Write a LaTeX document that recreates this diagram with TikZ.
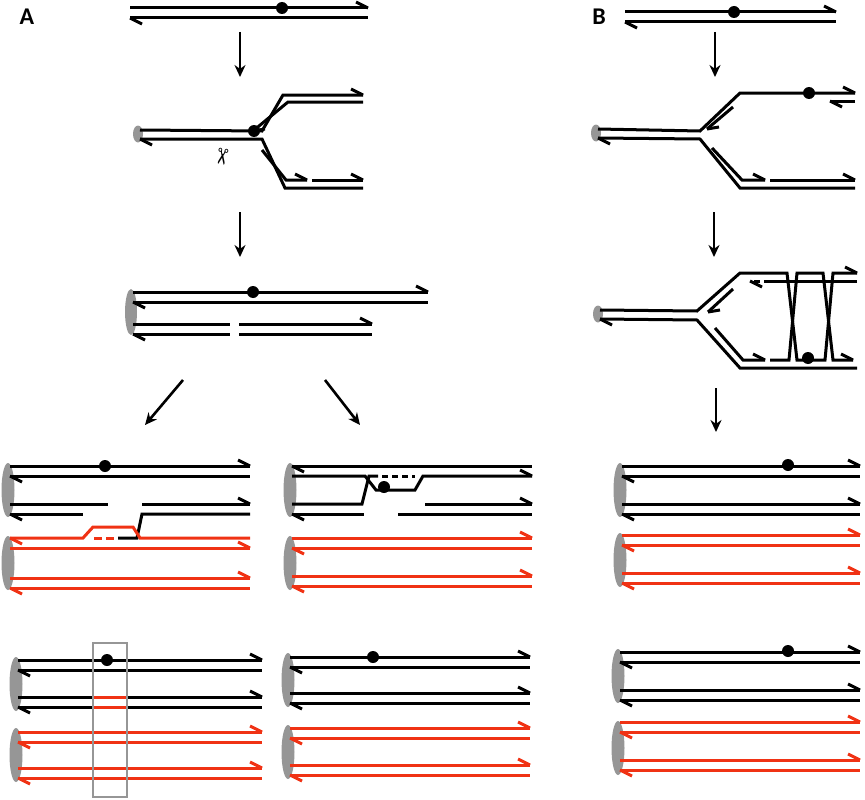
\documentclass[tikz,border=0pt]{standalone}
\usepackage{fontspec}
\usetikzlibrary{shapes.geometric,arrows.meta}
\setmainfont{Carlito}
\newfontfamily\dejavu{DejaVu Sans}
\definecolor{rd}{RGB}{240,50,20}
\definecolor{gr}{RGB}{150,150,150}
\newcommand\RB[3][black]{\draw[#1] (#2,#3) -- ++(-12,-6);}
\newcommand\LB[3][black]{\draw[#1] (#2,#3) -- ++(12,6);}
\newcommand\duplex[4]{%
  \draw[#4] (#1,#3) -- (#2,#3); \RB[#4]{#2}{#3}
  \draw[#4] (#1,#3+10) -- (#2,#3+10); \LB[#4]{#1}{#3+10}}
\begin{document}
\begin{tikzpicture}[x=1pt,y=-1pt,line width=3pt,line cap=butt,
  dot/.style={circle,fill=black,inner sep=0pt,minimum size=12pt},
  ell/.style={ellipse,fill=gr,inner sep=0pt},
  stp/.style={-{Stealth[length=12pt,width=11pt]},line width=2.6pt},
  lab/.style={font=\bfseries\fontsize{24}{24}\selectfont}]
\path[use as bounding box] (0,0) rectangle (865,800);
\node[lab] (la) at (27,17) {A};
\node[lab] (lb) at (599,17) {B};
% ---------- A1
\duplex{130}{368}{8}{black}
\node[dot] (d1) at (282,8) {};
\coordinate (a1s) at (240,32); \coordinate (a1e) at (240,77);
\draw[stp] (a1s) -- (a1e);
% ---------- A2
\node[ell,minimum width=10pt,minimum height=17pt] (e2) at (138,134) {};
\draw (140,130) -- (262,131) -- (283,95) -- (363,95); \RB{363}{95}
\draw (140,139) -- (262,139) -- (285,188) -- (363,188); \LB{140}{139}
\draw (363,102) -- (288,102) -- (253,131); \draw (253,131) -- ++(12,-2);
\draw (262,150) -- (286,180) -- (307,180); \RB{307}{180}
\draw (312,180) -- (363,180); \RB{363}{180}
\node[dot] (d2) at (254,131) {};
\node[font=\dejavu\fontsize{22}{22}\selectfont,rotate=-100] (sc) at (221,157) {✂};
\coordinate (a2s) at (240,212); \coordinate (a2e) at (240,257);
\draw[stp] (a2s) -- (a2e);
% ---------- A3
\node[ell,minimum width=12pt,minimum height=46pt] (e3) at (131,312) {};
\duplex{133}{428}{292}{black}
\node[dot] (d3) at (253,292) {};
\draw (133,324) -- (230,324); \draw (239,324) -- (372,324); \RB{372}{324}
\draw (133,334) -- (230,334); \draw (239,334) -- (372,334); \LB{133}{334}
\coordinate (a3s) at (183,380); \coordinate (a3e) at (145,425);
\coordinate (a4s) at (325,380); \coordinate (a4e) at (360,425);
\draw[stp] (a3s) -- (a3e); \draw[stp] (a4s) -- (a4e);
% ---------- A4 left
\node[ell,minimum width=13pt,minimum height=54pt] (e4) at (8,490) {};
\duplex{10}{250}{466}{black}
\node[dot] (d4) at (105,466) {};
\draw (10,504) -- (108,504); \draw (142,504) -- (250,504); \RB{250}{504}
\draw (10,514) -- (83,514); \LB{10}{514}
\draw (250,514) -- (142,514) -- (137,538) -- (118,538);
\node[ell,minimum width=13pt,minimum height=54pt] (e5) at (8,563) {};
\draw[rd] (10,538) -- (83,538) -- (93,527) -- (133,527) -- (140,538) -- (250,538); \LB[rd]{10}{538}
\draw[rd,dash pattern=on 8pt off 4pt] (94,538) -- (117,538);
\draw[rd] (10,548) -- (250,548); \RB[rd]{250}{548}
\duplex{10}{250}{578}{rd}
% ---------- A4 right
\node[ell,minimum width=13pt,minimum height=54pt] (e6) at (290,490) {};
\draw (292,466) -- (532,466); \LB{292}{466}
\draw (292,476) -- (365,476) -- (376,490) -- (415,490) -- (423,476) -- (532,476); \RB{532}{476}
\draw (292,504) -- (362,504) -- (369,476) -- (378,476);
\draw[dash pattern=on 6pt off 4pt] (382,476) -- (415,476);
\node[dot] (d5) at (384,487) {};
\draw (425,504) -- (532,504); \RB{532}{504}
\draw (292,514) -- (364,514); \draw (398,514) -- (532,514); \LB{292}{514}
\node[ell,minimum width=13pt,minimum height=54pt] (e7) at (290,563) {};
\duplex{292}{532}{538}{rd}
\duplex{292}{532}{576}{rd}
% ---------- A5 left
\node[ell,minimum width=13pt,minimum height=54pt] (e8) at (16,684) {};
\duplex{18}{262}{660}{black}
\duplex{18}{262}{697}{black}
\draw[rd] (93,697) -- (127,697); \draw[rd] (93,707) -- (127,707);
\node[ell,minimum width=13pt,minimum height=54pt] (e9) at (16,755) {};
\duplex{18}{262}{732}{rd}
\duplex{18}{262}{768}{rd}
\node[dot] (d6) at (107,660) {};
\draw[gr,line width=2.6pt] (93,643) rectangle (127,797);
% ---------- A5 right
\node[ell,minimum width=13pt,minimum height=54pt] (e10) at (288,680) {};
\duplex{290}{530}{657}{black}
\duplex{290}{530}{693}{black}
\node[dot] (d7) at (373,657) {};
\node[ell,minimum width=13pt,minimum height=54pt] (e11) at (288,752) {};
\duplex{290}{530}{728}{rd}
\duplex{290}{530}{765}{rd}
% ---------- B1
\duplex{625}{836}{12}{black}
\node[dot] (d8) at (734,12) {};
\coordinate (b1s) at (715,32); \coordinate (b1e) at (715,77);
\draw[stp] (b1s) -- (b1e);
% ---------- B2
\node[ell,minimum width=10pt,minimum height=17pt] (e12) at (596,133) {};
\draw (598,129) -- (700,131) -- (740,93) -- (855,93); \RB{855}{93}
\draw (598,138) -- (700,139) -- (740,188) -- (855,188); \LB{598}{138}
\node[dot] (d9) at (809,93) {};
\draw (855,101) -- (830,101); \LB{830}{101}
\draw (733,107) -- (707,129); \draw (707,129) -- ++(12,-2);
\draw (712,148) -- (742,180) -- (765,180); \RB{765}{180}
\draw (770,180) -- (855,180); \RB{855}{180}
\coordinate (b2s) at (714,212); \coordinate (b2e) at (714,257);
\draw[stp] (b2s) -- (b2e);
% ---------- B3
\node[ell,minimum width=10pt,minimum height=17pt] (e13) at (598,314) {};
\draw (600,310) -- (697,311) -- (740,273) -- (787,273) -- (797,360) -- (825,360) -- (833,273) -- (857,273); \RB{857}{273}
\draw (770,360) -- (789,360) -- (797,273) -- (823,273) -- (833,360) -- (853,360); \RB{853}{360}
\draw (600,319) -- (697,320) -- (740,368) -- (857,368); \LB{600}{319}
\draw (857,281) -- (770,281); \draw[dash pattern=on 6pt off 4pt] (770,281) -- (750,281); \LB{750}{281}
\draw (733,289) -- (708,312); \draw (708,312) -- ++(12,-2);
\draw (715,328) -- (743,360) -- (765,360); \RB{765}{360}
\node[dot] (d10) at (808,358) {};
\coordinate (b3s) at (716,388); \coordinate (b3e) at (716,432);
\draw[stp] (b3s) -- (b3e);
% ---------- B4
\node[ell,minimum width=13pt,minimum height=54pt] (e14) at (620,490) {};
\duplex{622}{860}{466}{black}
\duplex{622}{860}{504}{black}
\node[dot] (d11) at (788,465) {};
\node[ell,minimum width=13pt,minimum height=54pt] (e15) at (620,560) {};
\duplex{622}{860}{535}{rd}
\duplex{622}{860}{573}{rd}
% ---------- B5
\node[ell,minimum width=13pt,minimum height=54pt] (e16) at (618,676) {};
\duplex{620}{860}{652}{black}
\duplex{620}{860}{690}{black}
\node[dot] (d12) at (788,651) {};
\node[ell,minimum width=13pt,minimum height=54pt] (e17) at (618,748) {};
\duplex{620}{860}{722}{rd}
\duplex{620}{860}{760}{rd}
\end{tikzpicture}
\end{document}
